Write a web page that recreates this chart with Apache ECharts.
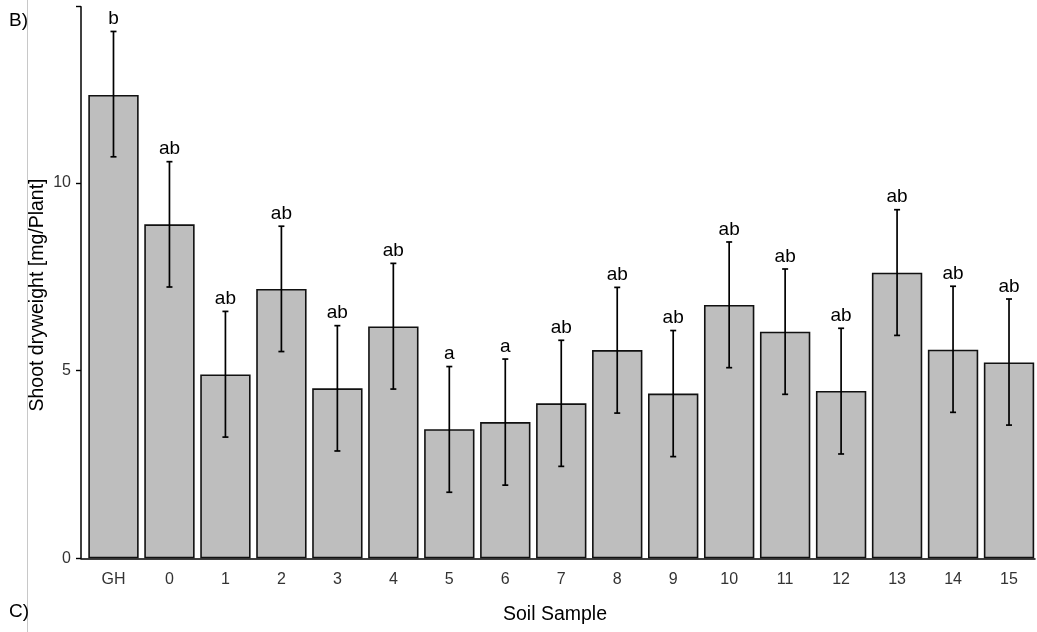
<!DOCTYPE html>
<html>
<head>
<meta charset="utf-8">
<script src="https://cdn.jsdelivr.net/npm/echarts@6/dist/echarts.min.js"></script>
<style>
html,body{margin:0;padding:0;background:#fff;}
#chart{width:1037px;height:632px;}
</style>
</head>
<body>
<div id="chart"></div>
<script>
var categories = ['GH','0','1','2','3','4','5','6','7','8','9','10','11','12','13','14','15'];
var means   = [12.35, 8.90, 4.90, 7.18, 4.53, 6.18, 3.44, 3.63, 4.13, 5.55, 4.39, 6.75, 6.04, 4.46, 7.61, 5.56, 5.22];
var errLow  = [10.70, 7.23, 3.23, 5.51, 2.86, 4.51, 1.76, 1.95, 2.45, 3.87, 2.71, 5.08, 4.37, 2.78, 5.94, 3.89, 3.55];
var errHigh = [14.04,10.57, 6.58, 8.85, 6.20, 7.86, 5.11, 5.31, 5.81, 7.22, 6.07, 8.43, 7.71, 6.13, 9.29, 7.25, 6.91];
var letters = ['b','ab','ab','ab','ab','ab','a','a','ab','ab','ab','ab','ab','ab','ab','ab','ab'];
var yTicks = [0, 5, 10];

var FONT = '"Liberation Sans", Arial, sans-serif';
var chart = echarts.init(document.getElementById('chart'), null, {renderer: 'canvas'});

var errData = categories.map(function (c, i) { return [i, errLow[i], errHigh[i]]; });

var option = {
  animation: false,
  backgroundColor: '#ffffff',
  textStyle: {fontFamily: FONT},
  grid: [
    {left: 81, right: 2, top: 6.7, bottom: 73.7},
    {left: 85.5, right: 0, top: 6.7, bottom: 73.7}
  ],
  xAxis: [
    {gridIndex: 0, type: 'value', min: 0, max: 1,
      axisLine: {show: true, lineStyle: {color: '#000', width: 1.5}},
      axisTick: {show: false}, axisLabel: {show: false}, splitLine: {show: false}},
    {gridIndex: 1, type: 'category', data: categories,
      axisLine: {show: false}, axisTick: {show: false},
      axisLabel: {interval: 0, fontSize: 16, color: '#333', margin: 13, fontFamily: FONT},
      splitLine: {show: false}}
  ],
  yAxis: [
    {gridIndex: 0, type: 'value', min: 0, max: 14.7, interval: 5,
      axisLine: {show: true, lineStyle: {color: '#000', width: 1.5}},
      axisTick: {show: true, length: 5, lineStyle: {color: '#000', width: 1.4}},
      axisLabel: {fontSize: 16, color: '#333', margin: 10, fontFamily: FONT,
        customValues: yTicks},
      splitLine: {show: false}},
    {gridIndex: 1, type: 'value', min: 0, max: 14.7, interval: 5, show: false,
      splitLine: {show: false}}
  ],
  series: [
    {type: 'bar', xAxisIndex: 1, yAxisIndex: 1, data: means, barWidth: '90%',
      itemStyle: {color: '#BEBEBE', borderColor: '#111', borderWidth: 1.6},
      silent: true, z: 2},
    {type: 'custom', xAxisIndex: 1, yAxisIndex: 1, data: errData, z: 3,
      encode: {x: 0, y: [1, 2]},
      renderItem: function (params, api) {
        var i = api.value(0);
        var lo = api.coord([i, api.value(1)]);
        var hi = api.coord([i, api.value(2)]);
        var cap = 3;
        var ls = {stroke: '#000', lineWidth: 1.7};
        return {type: 'group', children: [
          {type: 'line', shape: {x1: hi[0], y1: hi[1], x2: lo[0], y2: lo[1]}, style: ls},
          {type: 'line', shape: {x1: hi[0] - cap, y1: hi[1], x2: hi[0] + cap, y2: hi[1]}, style: ls},
          {type: 'line', shape: {x1: lo[0] - cap, y1: lo[1], x2: lo[0] + cap, y2: lo[1]}, style: ls},
          {type: 'text', x: hi[0], y: hi[1] - 3,
            style: {text: letters[params.dataIndex], fill: '#000', fontSize: 19, fontFamily: FONT,
              align: 'center', verticalAlign: 'bottom'}}
        ]};
      }}
  ],
  graphic: [
    {type: 'line', shape: {x1: 27.5, y1: 0, x2: 27.5, y2: 632}, style: {stroke: '#c8c8c8', lineWidth: 1}, silent: true},
    {type: 'text', left: 9, top: 11, style: {text: 'B)', fill: '#000', fontSize: 19, fontFamily: FONT}},
    {type: 'text', left: 9, top: 602, style: {text: 'C)', fill: '#000', fontSize: 19, fontFamily: FONT}},
    {type: 'text', x: 555, y: 615, style: {text: 'Soil Sample', fill: '#000', fontSize: 19.5, fontFamily: FONT,
      align: 'center', verticalAlign: 'middle'}},
    {type: 'text', x: 38, y: 295, rotation: Math.PI / 2,
      style: {text: 'Shoot dryweight [mg/Plant]', fill: '#000', fontSize: 19.5, fontFamily: FONT,
        align: 'center', verticalAlign: 'middle'}}
  ]
};
chart.setOption(option);
</script>
</body>
</html>
